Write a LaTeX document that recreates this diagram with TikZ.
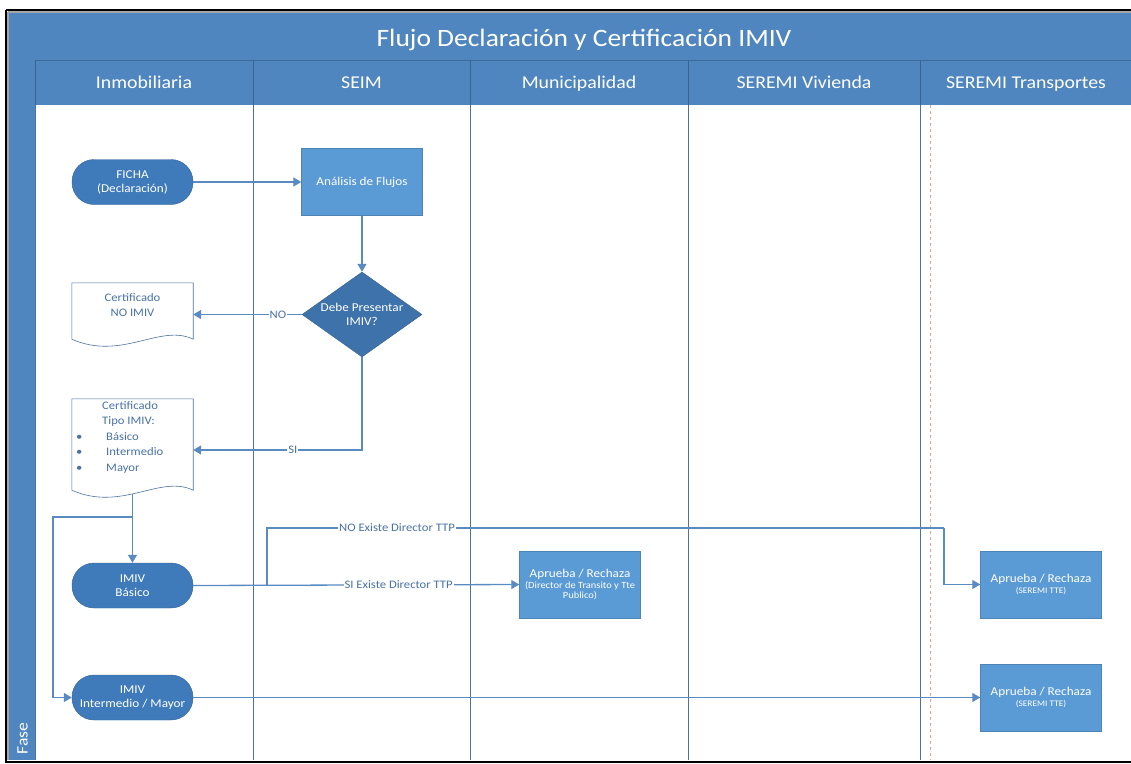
\documentclass[tikz,border=0pt]{standalone}
\usepackage{fontspec}
\setmainfont{Carlito}[FakeStretch=1.1]
\usetikzlibrary{arrows.meta,shapes.geometric}
\definecolor{hdr}{HTML}{4F86BF}
\definecolor{lane}{HTML}{4F73A0}
\definecolor{conn}{HTML}{5A8AC2}
\definecolor{boxc}{HTML}{5B9BD5}
\definecolor{termc}{HTML}{3F7BBA}
\definecolor{decc}{HTML}{3E72AA}
\definecolor{txtb}{HTML}{4A72A8}
\definecolor{dashc}{HTML}{E3A595}
\newcommand{\subtxt}[1]{{\fontsize{8.5}{9}\selectfont #1}}
\newcommand{\subtxtb}[1]{{\fontsize{9.5}{10}\selectfont #1}}
\tikzset{
  term/.style={draw=termc!80!black, line width=0.4pt, fill=termc, rounded corners=22pt,
    minimum width=121pt, minimum height=45pt, text=white, font=\fontsize{12}{14}\selectfont, align=center, inner sep=0pt},
  procbox/.style={draw=boxc!85!black, line width=0.4pt, fill=boxc, minimum width=121pt, minimum height=67pt,
    text=white, font=\fontsize{12}{14}\selectfont, align=center, inner sep=0pt},
  decbox/.style={diamond, draw=decc!85!black, line width=0.4pt, fill=decc, minimum width=120pt, minimum height=85pt,
    inner sep=0pt},
  dectext/.style={text=white, font=\fontsize{12}{14}\selectfont, align=center, inner sep=0pt},
  docframe/.style={minimum width=121pt, inner sep=0pt},
  docline/.style={draw=lane, line width=0.6pt, fill=white},
  doctext/.style={text=txtb, font=\fontsize{11.5}{15.5}\selectfont, inner sep=0pt},
  flow/.style={draw=conn, line width=1.3pt, -{Triangle[length=8pt,width=9pt]}},
  flowplain/.style={draw=conn, line width=1.3pt},
  lbl/.style={fill=white, text=txtb, font=\fontsize{11.5}{12}\selectfont, inner sep=1pt},
  lanehead/.style={text=white, font=\fontsize{18}{20}\selectfont, anchor=base},
  laneline/.style={draw=lane, line width=0.8pt}
}
\begin{document}
\begin{tikzpicture}[x=1pt,y=-1pt]
\useasboundingbox (0,0) rectangle (1131,763);
% background and frame
\fill[white] (0,0) rectangle (1131,763);
\fill[hdr] (9,13) rectangle (1131,105);
\fill[hdr] (9,105) rectangle (35,760);
\draw[hdr!80!black, line width=0.6pt] (35,60) -- (1131,60);
\draw[black, line width=1.6pt] (6,10) -- (1135,10);
\draw[black, line width=1.6pt] (6,10) -- (6,762) -- (1135,762);
\draw[gray!70, line width=1.2pt] (8,12) -- (1131,12);
\draw[gray!70, line width=1.2pt] (8,12) -- (8,760);
% title
\node[text=white, font=\fontsize{25}{28}\selectfont, anchor=base] (title) at (584,46) {Flujo Declaración y Certificación IMIV};
% lane headers
\node[lanehead] (h1) at (144,88.5) {Inmobiliaria};
\node[lanehead] (h2) at (361.5,88.5) {SEIM};
\node[lanehead] (h3) at (579,88.5) {Municipalidad};
\node[lanehead] (h4) at (804,88.5) {SEREMI Vivienda};
\node[lanehead] (h5) at (1026,88.5) {SEREMI Transportes};
\node[text=white, font=\fontsize{16}{17}\selectfont, rotate=90, anchor=west] (fase) at (22.5,758) {Fase};
% lane lines
\draw[hdr!75!black, line width=0.8pt] (35,60) -- (35,105);
\foreach \xx in {253,470,688,920} {
  \draw[hdr!75!black, line width=0.8pt] (\xx,60) -- (\xx,105);
  \draw[laneline] (\xx,105) -- (\xx,760);
}
\draw[laneline] (35,105) -- (35,760);
\draw[dashc, line width=0.8pt, dashed] (930,105) -- (930,760);

% nodes
\node[term] (ficha) at (132.5,182) {FICHA\\(Declaración)};
\node[procbox] (analisis) at (362,182) {Análisis de Flujos};
\node[decbox] (dec) at (362,314.5) {};
\node[dectext] (dect) at (362,314.5) {Debe Presentar\\IMIV?};

% document: Certificado NO IMIV
\node[docframe, minimum height=56pt] (cno) at (132.5,311) {};
\draw[docline] (cno.north west) -- (cno.north east) -- (cno.south east)
  .. controls +(-33,-16) and +(50,22) .. (cno.south west) -- cycle;
\node[doctext, align=center] (cnot) at (132.5,305) {Certificado\\NO IMIV};

% document: Certificado Tipo IMIV
\node[docframe, minimum height=91pt] (ctipo) at (132.5,444.5) {};
\draw[docline] (ctipo.north west) -- (ctipo.north east) -- (ctipo.south east)
  .. controls +(-33,-16) and +(50,22) .. (ctipo.south west) -- cycle;
\node[doctext, align=left, anchor=north west] (ctipot) at (76,401) {%
  \makebox[26pt][l]{}Certificado\\
  \makebox[26pt][l]{}Tipo IMIV:\\
  \makebox[30pt][l]{\textbullet}Básico\\
  \makebox[30pt][l]{\textbullet}Intermedio\\
  \makebox[30pt][l]{\textbullet}Mayor};

\node[term] (basico) at (132.5,585.5) {IMIV\\Básico};
\node[term] (inter) at (132.5,697.5) {IMIV\\Intermedio / Mayor};

\node[procbox] (apm) at (580,584.5) {Aprueba / Rechaza\\[-3pt]\subtxtb{(Director de Transito y Tte}\\[-4pt]\subtxtb{Publico)}};
\node[procbox] (ap1) at (1041,584.5) {Aprueba / Rechaza\\[-3pt]\subtxt{(SEREMI TTE)}};
\node[procbox] (ap2) at (1041,697.5) {Aprueba / Rechaza\\[-3pt]\subtxt{(SEREMI TTE)}};

% connectors
\draw[flow] (ficha.east) -- (analisis.west);
\draw[flow] (analisis.south) -- (dec.north);
\draw[flow] (dec.west) -- node[lbl, pos=0.22] {NO} (dec.west -| cno.east);
\draw[flow] (dec.south) |- node[lbl, pos=0.705] {SI} ([yshift=-5.5pt]ctipo.east);
\coordinate (ctb) at (132.5,494);
\coordinate (br) at (132.5,517);
\coordinate (brl) at (53,517);
\draw[flow] (ctb) -- (basico.north);
\draw[flow] (br) -- (brl) |- (inter.west);
\draw[flow] (basico.east) -- node[lbl, pos=0.63] {SI Existe Director TTP} (apm.west);
\coordinate (nb) at (267,585.5);
\coordinate (nc) at (944,528);
\draw[flowplain] (nb) |- node[lbl, pos=0.596] {NO Existe Director TTP} (nc);
\draw[flow] (nc) |- (ap1.west);
\draw[flow] (inter.east) -- (ap2.west);
\end{tikzpicture}
\end{document}
